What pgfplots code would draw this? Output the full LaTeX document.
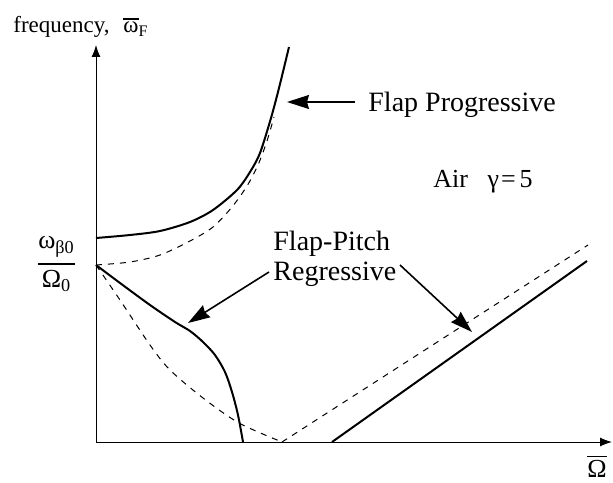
\documentclass[border=0pt]{standalone}
\usepackage{amsmath}
\usepackage{fontspec}
\setmainfont{Liberation Serif}
\usepackage{pgfplots}
\pgfplotsset{compat=1.18}
\usetikzlibrary{arrows.meta}

% overbar set over a text glyph
\newcommand{\ob}[1]{\leavevmode\vbox{\hrule height 0.6pt\kern 1.3pt\hbox{#1}}}

\begin{document}
\begin{tikzpicture}[font=\fontsize{14}{17}\selectfont, every node/.style={inner sep=0pt}]
\path[use as bounding box] (-48pt,-20pt) rectangle (258.5pt,221pt);
\begin{axis}[
  scale only axis,
  width=258pt, height=198.5pt,
  xmin=0, xmax=5.16, ymin=0, ymax=3.97,
  axis lines=left,
  axis line style={line width=0.5pt, -{Latex[length=6pt,width=4.5pt]}},
  xtick=\empty, ytick=\empty,
  clip=false,
]
% flap progressive mode
\addplot[black, line width=1pt, smooth] coordinates {
  (0,2.04) (0.34,2.07) (0.64,2.11) (0.94,2.20) (1.17,2.32) (1.41,2.52)
  (1.54,2.70) (1.64,2.89) (1.75,3.24) (1.83,3.54) (1.93,3.95)};
% uncoupled flap progressive branch
\addplot[black, line width=0.5pt, dash pattern=on 3pt off 3pt, smooth] coordinates {
  (0,1.77) (0.34,1.80) (0.64,1.87) (0.94,2.01) (1.17,2.15) (1.36,2.35)
  (1.51,2.56) (1.62,2.77) (1.71,3.01) (1.78,3.25)};
% flap-pitch regressive mode, low branch
\addplot[black, line width=1pt, smooth] coordinates {
  (0,1.77) (0.24,1.59) (0.54,1.37) (0.79,1.20) (0.94,1.11) (1.07,1.00)
  (1.19,0.87) (1.29,0.70) (1.36,0.50) (1.42,0.27) (1.47,0)};
% uncoupled regressive branch
\addplot[black, line width=0.5pt, dash pattern=on 3pt off 3pt, smooth] coordinates {
  (0,1.77) (0.24,1.42) (0.54,0.97) (0.74,0.72) (1.07,0.44) (1.43,0.19) (1.86,0)};
\addplot[black, line width=0.5pt, dash pattern=on 3pt off 3pt] coordinates {
  (1.86,0) (4.92,1.97)};
% flap-pitch regressive mode, high branch
\addplot[black, line width=1pt] coordinates {(2.36,0) (4.91,1.81)};

% annotations
\node[anchor=base west] at (axis cs:2.72,3.30) {Flap Progressive};
\draw[line width=0.8pt, -{Stealth[length=11pt,width=7pt,inset=1pt]}]
  (axis cs:2.59,3.40) -- (axis cs:1.91,3.40);
\node[anchor=base west, font=\fontsize{13}{15}\selectfont]
  at (axis cs:3.37,2.55) {Air\hspace{0.75em}γ\hspace{0.08em}=\hspace{0.15em}5};
\node[anchor=base west] at (axis cs:1.77,1.92) {Flap-Pitch};
\node[anchor=base west] at (axis cs:1.77,1.62) {Regressive};
\draw[line width=0.8pt, -{Stealth[length=11pt,width=7pt,inset=1pt]}]
  (axis cs:1.73,1.70) -- (axis cs:0.92,1.19);
\draw[line width=0.8pt, -{Stealth[length=11pt,width=7pt,inset=1pt]}]
  (axis cs:3.04,1.77) -- (axis cs:3.76,1.10);

% axis labels
\node[anchor=base west, font=\fontsize{11.5}{14}\selectfont]
  at (axis cs:-0.83,4.09) {frequency,\hspace{0.6em}\ob{ω}\textsubscript{F}};
\node[font=\fontsize{13}{15}\selectfont] at (axis cs:-0.395,1.78)
  {$\genfrac{}{}{0.9pt}{0}{\text{ω\textsubscript{β0}}}{\text{Ω\textsubscript{0}}}$};
\node[anchor=base, font=\fontsize{13}{15}\selectfont] at (axis cs:5.01,-0.35) {\ob{Ω}};
\end{axis}
\end{tikzpicture}
\end{document}
